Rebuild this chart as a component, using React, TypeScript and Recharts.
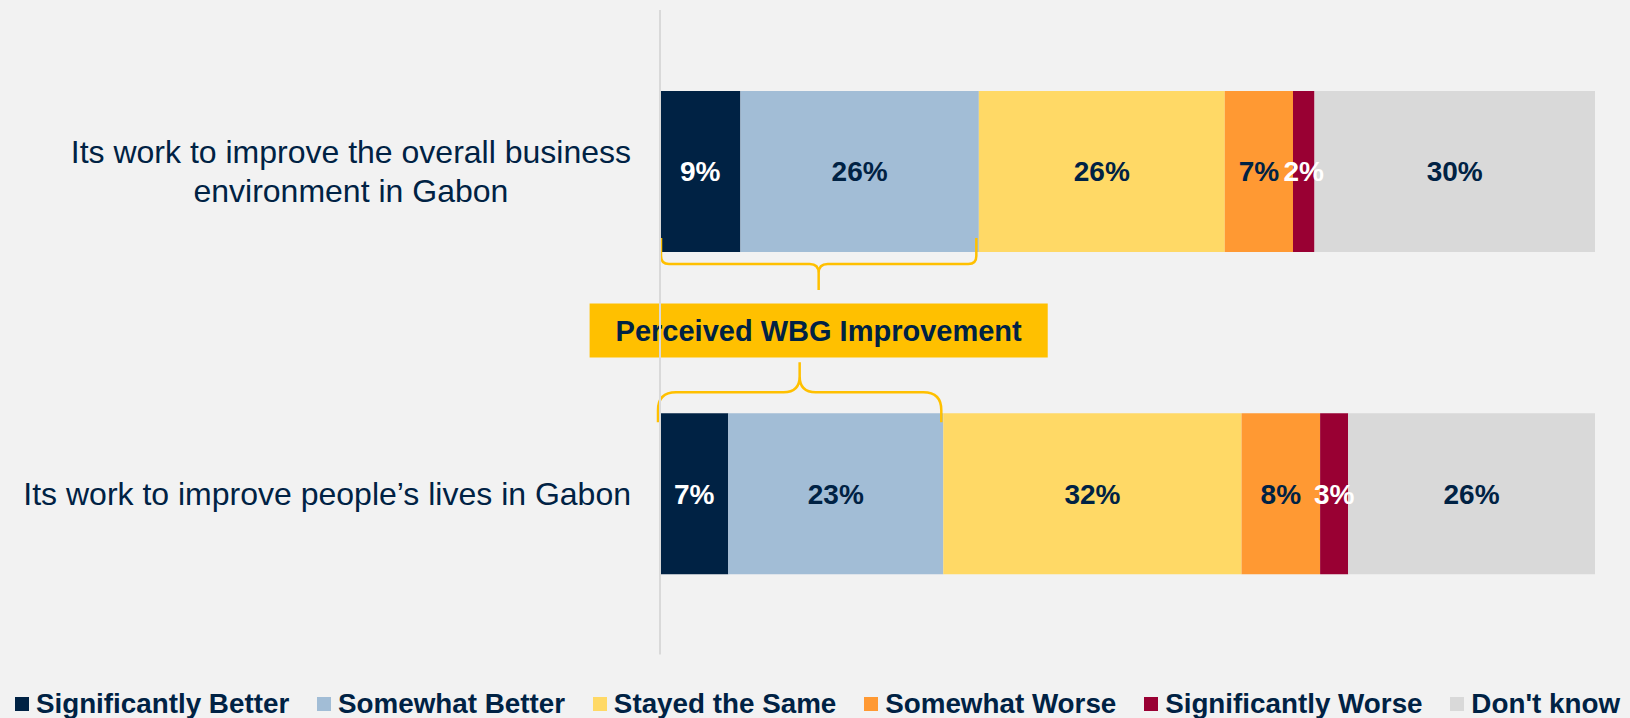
import React from "react";
import { BarChart, Bar, XAxis, YAxis, Legend, LabelList } from "recharts";

// values (bar widths), labels show them rounded
const categories = [
  "Its work to improve the overall business environment in Gabon",
  "Its work to improve people’s lives in Gabon",
];
const significantlyBetter = [8.6, 7.3];
const somewhatBetter = [25.5, 23.0];
const stayedSame = [26.3, 31.9];
const somewhatWorse = [7.3, 8.4];
const significantlyWorse = [2.3, 3.0];
const dontKnow = [30.0, 26.4];
const seriesNames = [
  "Significantly Better",
  "Somewhat Better",
  "Stayed the Same",
  "Somewhat Worse",
  "Significantly Worse",
  "Don't know",
];
const calloutText = "Perceived WBG Improvement";

const NAVY = "#002244";
const GOLD = "#FFC000";
const FONT = "'Liberation Sans', Arial, sans-serif";
const KEYS = ["sb", "wb", "same", "ww", "sw", "dk"];
const COLORS = ["#002244", "#A2BDD6", "#FFD966", "#FF9933", "#990033", "#D9D9D9"];
const LABEL_FILLS = ["#FFFFFF", NAVY, NAVY, NAVY, "#FFFFFF", NAVY];

const data = categories.map((name, i) => ({
  name,
  sb: significantlyBetter[i],
  wb: somewhatBetter[i],
  same: stayedSame[i],
  ww: somewhatWorse[i],
  sw: significantlyWorse[i],
  dk: dontKnow[i],
}));

let ctx: CanvasRenderingContext2D | null = null;
function measure(text: string, font: string) {
  if (!ctx) ctx = document.createElement("canvas").getContext("2d");
  if (!ctx) return text.length * 15;
  ctx.font = font;
  return ctx.measureText(text).width;
}

function wrap(text: string, maxW: number, font: string) {
  const words = text.split(" ");
  const lines: string[] = [];
  let cur = "";
  for (const w of words) {
    const t = cur ? cur + " " + w : w;
    if (cur && measure(t, font) > maxW) {
      lines.push(cur);
      cur = w;
    } else cur = t;
  }
  if (cur) lines.push(cur);
  return lines;
}

function CategoryTick(props: any) {
  const { x, y, payload } = props;
  const size = 32;
  const font = `${size}px ${FONT}`;
  const lines = wrap(String(payload.value), 620, font);
  const maxW = Math.max(...lines.map((l) => measure(l, font)));
  const cx = x - maxW / 2;
  const lh = 39;
  const y0 = y - ((lines.length - 1) * lh) / 2;
  return (
    <text fontFamily={FONT} fontSize={size} fill={NAVY} textAnchor="middle">
      {lines.map((l, i) => (
        <tspan key={i} x={cx} y={y0 + i * lh + size * 0.35}>
          {l}
        </tspan>
      ))}
    </text>
  );
}

function bracePath(x1: number, x2: number, yTip: number, yLine: number, yPoint: number, r: number, rc: number) {
  const s = yLine > yTip ? 1 : -1;
  const cx = (x1 + x2) / 2;
  const half = (xa: number, dir: number) =>
    `M${xa},${yTip} L${xa},${yLine - s * r} Q${xa},${yLine} ${xa + dir * r},${yLine} ` +
    `L${cx - dir * rc},${yLine} Q${cx},${yLine} ${cx},${yLine + s * rc} L${cx},${yPoint}`;
  return half(x1, 1) + " " + half(x2, -1);
}

// "Somewhat Better" segment, plus the brace over the two "better" segments
function BetterShape(props: any) {
  const { x, y, width, height, fill, payload, index } = props;
  const start = x - (width * payload.sb) / payload.wb;
  const end = x + width;
  let extra = null;
  if (index === 0) {
    const yb = y + height;
    const cx = (start + 1 + end - 2.5) / 2;
    const boxFont = `bold 29px ${FONT}`;
    const bw = measure(calloutText, boxFont) + 52;
    const bh = 54;
    const by = yb + 51.5;
    extra = (
      <g>
        <path d={bracePath(start + 1, end - 2.5, yb - 14, yb + 12, yb + 38, 8, 9)} stroke={GOLD} strokeWidth={2.5} fill="none" />
        <rect x={cx - bw / 2} y={by} width={bw} height={bh} fill={GOLD} />
        <text x={cx} y={by + bh / 2 + 10} textAnchor="middle" fontFamily={FONT} fontWeight="bold" fontSize={29} fill={NAVY}>
          {calloutText}
        </text>
      </g>
    );
  } else {
    extra = (
      <path d={bracePath(start - 2, end - 2, y + 9, y - 21, y - 51, 18, 16)} stroke={GOLD} strokeWidth={2.5} fill="none" />
    );
  }
  return (
    <g>
      <rect x={x} y={y} width={width} height={height} fill={fill} />
      {extra}
    </g>
  );
}

const renderLegend = () => (
  <div
    style={{
      height: 63.5,
      boxSizing: "border-box",
      paddingTop: 35,
      paddingLeft: 14.6,
      display: "flex",
      alignItems: "center",
      gap: 27.5,
      fontFamily: FONT,
      fontWeight: "bold",
      fontSize: 27.8,
      color: NAVY,
      whiteSpace: "nowrap",
    }}
  >
    {seriesNames.map((n, i) => (
      <div key={n} style={{ display: "flex", alignItems: "center" }}>
        <span style={{ display: "inline-block", width: 14, height: 14, background: COLORS[i], marginRight: 7.3 }} />
        {n}
      </div>
    ))}
  </div>
);

export default function App() {
  return (
    <div style={{ position: "absolute", left: 0, top: 0, width: 1630, height: 718, background: "#F2F2F2" }}>
      <BarChart
        layout="vertical"
        width={1630}
        height={718}
        data={data}
        margin={{ top: 10, right: 35, left: 0, bottom: 0 }}
      >
        <XAxis type="number" domain={[0, 100]} hide />
        <YAxis
          type="category"
          dataKey="name"
          width={660}
          axisLine={{ stroke: "#D9D9D9", strokeWidth: 2 }}
          tickLine={false}
          tickSize={0}
          tickMargin={29}
          tick={<CategoryTick />}
        />
        <Legend verticalAlign="bottom" content={renderLegend} wrapperStyle={{ left: 0, width: 1630 }} />
        {KEYS.map((k, i) => (
          <Bar
            key={k}
            dataKey={k}
            name={seriesNames[i]}
            stackId="a"
            fill={COLORS[i]}
            barSize={161}
            isAnimationActive={false}
            shape={k === "wb" ? <BetterShape /> : undefined}
          >
            <LabelList
              dataKey={k}
              position="center"
              fill={LABEL_FILLS[i]}
              fontFamily={FONT}
              fontWeight="bold"
              fontSize={28}
              formatter={(v: any) => `${Math.round(Number(v))}%`}
            />
          </Bar>
        ))}
      </BarChart>
    </div>
  );
}
